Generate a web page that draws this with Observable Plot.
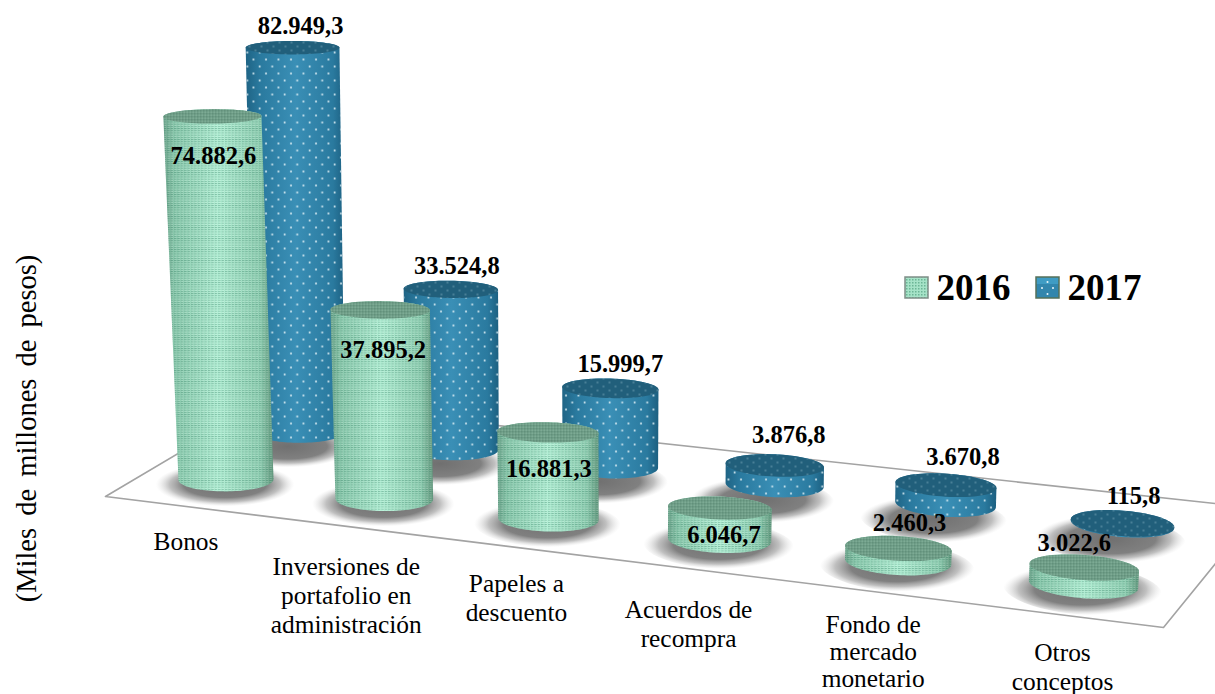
<!DOCTYPE html>
<html lang="es">
<head>
<meta charset="utf-8">
<script src="https://cdn.jsdelivr.net/npm/d3@7"></script>
<script src="https://cdn.jsdelivr.net/npm/@observablehq/plot@0.6"></script>
<style>
html,body{margin:0;padding:0;background:#fff;overflow:hidden}
</style>
</head>
<body>
<div id="chart"></div>
<script>
// ---- data ----
const categories = ["Bonos", "Inversiones de\nportafolio en\nadministración", "Papeles a\ndescuento", "Acuerdos de\nrecompra", "Fondo de\nmercado\nmonetario", "Otros\nconceptos"];
const values2016 = [74882.6, 37895.2, 16881.3, 6046.7, 2460.3, 3022.6];
const values2017 = [82949.3, 33524.8, 15999.7, 3876.8, 3670.8, 115.8];
const years = ["2016", "2017"];
const yLabel = "(Miles de millones de pesos)";

// ---- 3-D floor projection (unit floor square -> page) ----
const corners = [[225.5, 479], [1083, 584], [1122, 523.5], [299, 431]];
const slots = [0, 0.207, 0.41, 0.61, 0.807, 1];
const floorOutline = [[1215, 503], [267, 400], [105, 496], [1163, 627], [1215, 563]];
const [[x0, y0], [x1, y1], [x2, y2], [x3, y3]] = corners;
const dx1 = x1 - x2, dx2 = x3 - x2, sx = x0 - x1 + x2 - x3;
const dy1 = y1 - y2, dy2 = y3 - y2, sy = y0 - y1 + y2 - y3;
const det = dx1 * dy2 - dx2 * dy1;
const G = (sx * dy2 - dx2 * sy) / det, H = (dx1 * sy - sx * dy1) / det;
const A = x1 - x0 + G * x1, B = x3 - x0 + H * x3, D = y1 - y0 + G * y1, E = y3 - y0 + H * y3;
const project = (u, v) => {
  const w = 1 + G * u + H * v;
  return {x: (A * u + B * v + x0) / w, y: (D * u + E * v + y0) / w, w};
};
const fmt = d3.formatLocale({decimal: ",", thousands: ".", grouping: [3]}).format(",.1f");

function column(value, i, row) {
  const p = project(slots[i], row);
  const rx = 47.5 / p.w;
  const h = value * 0.00485 / p.w;
  const tilt = ((p.x - 300) / 800) * 4.5 * Math.PI / 180;
  const ratio = (t) => 0.25 - 0.1 * Math.sqrt(t / 380);
  const lean = row ? 0.6 : 1;
  return {
    i, row, value, tilt,
    bx: p.x, by: p.y, brx: rx, bry: rx * 0.25,
    tx: p.x - lean * (600 - p.x) * h / 10000, ty: p.y - h,
    trx: rx * (1 + h * 0.00009), try_: rx * ratio(h)
  };
}
const ell = (cx, cy, rx, ry, phi, t) => ({
  x: cx + rx * Math.cos(t) * Math.cos(phi) - ry * Math.sin(t) * Math.sin(phi),
  y: cy + rx * Math.cos(t) * Math.sin(phi) + ry * Math.sin(t) * Math.cos(phi)
});
const sweep = (a, b, n = 48) => d3.range(n + 1).map(k => a + (b - a) * k / n);
const bodyPath = c => [
  ...sweep(Math.PI, 0).map(t => ell(c.bx, c.by, c.brx, c.bry, c.tilt, t)),
  ...sweep(0, -Math.PI).map(t => ell(c.tx, c.ty, c.trx, c.try_, c.tilt, t))
].map(p => ({...p, id: c.i}));
const topPath = c => sweep(0, 2 * Math.PI, 72).map(t => ({...ell(c.tx, c.ty, c.trx, c.try_, c.tilt, t), id: c.i}));
const shadowPath = c => {
  const off = c.row ? [-12, 15] : [-1, 5];
  return sweep(0, 2 * Math.PI, 48).map(t => ({...ell(c.bx + off[0], c.by + off[1], c.brx * 1.46, c.brx * 0.46, c.tilt, t), id: c.i}));
};

const cols2016 = values2016.map((v, i) => column(v, i, 0));
const cols2017 = values2017.map((v, i) => column(v, i, 1));

// ---- label placement ----
const offset2016 = [[1, 47.5], [3, 48.5], [1, 44.5], [4, 34.5], [11, -17.5], [-10, -16.5]];
const offset2017 = [[8, -13.5], [6, -15.5], [10, -16.5], [14, -22.5], [17, -20.5], [11, -19.5]];
const labelRows = [
  ...cols2016.map((c, i) => ({x: c.tx + offset2016[i][0], y: c.ty + offset2016[i][1], text: fmt(c.value)})),
  ...cols2017.map((c, i) => ({x: c.tx + offset2017[i][0], y: c.ty + offset2017[i][1], text: fmt(c.value)}))
];
const catOffset = [[-40, 61], [-38, 96], [-32, 78], [-31, 83], [-25, 90], [-21, 82]];
const catRows = categories.map((t, i) => ({i, x: cols2016[i].bx + catOffset[i][0], y: cols2016[i].by + catOffset[i][1], text: t}));

const legendRows = [
  {year: years[0], x1: 905, x2: 928, y1: 277, y2: 298, tx: 936, ty: 288},
  {year: years[1], x1: 1036, x2: 1059, y1: 277, y2: 298, tx: 1067, ty: 288}
];

const defs = () => {
  const g = document.createElementNS("http://www.w3.org/2000/svg", "defs");
  g.innerHTML = `
  <linearGradient id="b16" x1="0" x2="1" y1="0" y2="0">
    <stop offset="0" stop-color="#6fa58d"/><stop offset=".1" stop-color="#8ccaae"/>
    <stop offset=".5" stop-color="#b4f0d6"/><stop offset=".88" stop-color="#92d0b4"/><stop offset="1" stop-color="#66997f"/>
  </linearGradient>
  <linearGradient id="b17" x1="0" x2="1" y1="0" y2="0">
    <stop offset="0" stop-color="#1f6485"/><stop offset=".15" stop-color="#2a7a9f"/>
    <stop offset=".5" stop-color="#3a8fb6"/><stop offset=".88" stop-color="#2a7a9f"/><stop offset="1" stop-color="#1c5f80"/>
  </linearGradient>
  <radialGradient id="sh">
    <stop offset="0" stop-color="#707070"/><stop offset=".6" stop-color="#808080"/>
    <stop offset=".8" stop-color="#b0b0b0" stop-opacity=".8"/><stop offset="1" stop-color="#dddddd" stop-opacity="0"/>
  </radialGradient>
  <pattern id="p16" width="3.4" height="2.2" patternUnits="userSpaceOnUse">
    <rect width="2.4" height=".9" fill="#2f7a60" fill-opacity=".38"/>
    <rect x="1.2" y="1.2" width="1.2" height=".9" fill="#fff" fill-opacity=".28"/>
  </pattern>
  <pattern id="t16" width="3" height="3" patternUnits="userSpaceOnUse">
    <rect width="3" height="3" fill="#6d9d87"/>
    <rect width="1.5" height="1.5" fill="#8cb8a2"/>
    <rect x="1.5" y="1.5" width="1.5" height="1.5" fill="#56846f"/>
  </pattern>
  <pattern id="p17" width="12.5" height="14" patternUnits="userSpaceOnUse">
    <circle cx="3" cy="3" r="1" fill="#dfeff5"/><circle cx="9.25" cy="10" r="1" fill="#dfeff5"/>
  </pattern>
  <pattern id="t17" width="12" height="8" patternUnits="userSpaceOnUse">
    <rect width="12" height="8" fill="#215f7b"/>
    <circle cx="3" cy="2" r=".7" fill="#8db7c6"/><circle cx="9" cy="6" r=".7" fill="#8db7c6"/>
  </pattern>
  <pattern id="l16" width="3" height="3" patternUnits="userSpaceOnUse">
    <rect width="3" height="3" fill="#a6e3c8"/><rect width="1.5" height="1.5" fill="#6cb596"/>
  </pattern>
  <pattern id="l17" width="23" height="21" patternUnits="userSpaceOnUse" x="1036" y="277">
    <rect width="23" height="21" fill="#3286ad"/>
    <rect width="23" height="7" fill="#3f9cc4"/>
    <circle cx="6" cy="11" r="1" fill="#eaf6fa"/><circle cx="17" cy="11" r="1" fill="#eaf6fa"/>
    <circle cx="11.5" cy="5" r="1" fill="#eaf6fa"/><circle cx="11.5" cy="17" r="1" fill="#eaf6fa"/>
  </pattern>`;
  return g;
};

const lineOf = (rows, fill, opts = {}) => Plot.line(rows, {x: "x", y: "y", z: "id", fill, stroke: "none", curve: "linear", ...opts});
const cylinderMarks = (cols, grad, dots, top) => [
  lineOf(cols.flatMap(bodyPath), grad),
  lineOf(cols.flatMap(bodyPath), dots),
  lineOf(cols.flatMap(topPath), top)
];
const catText = (rows, lineHeight) => Plot.text(rows, {x: "x", y: "y", text: "text", fontSize: 25.4, textAnchor: "middle", lineAnchor: "middle", lineHeight, fill: "#000"});

const chart = Plot.plot({
  width: 1215,
  height: 694,
  margin: 0,
  x: {domain: [0, 1215], range: [0, 1215], axis: null},
  y: {domain: [0, 694], range: [0, 694], axis: null},
  style: {fontFamily: "'Liberation Serif', serif", background: "#fff", color: "#000", overflow: "hidden"},
  marks: [
    defs,
    Plot.line(floorOutline, {x: d => d[0], y: d => d[1], stroke: "#a3a3a3", strokeWidth: 1.6, curve: "linear"}),
    lineOf([...cols2017, ...cols2016].flatMap((c, k) => shadowPath(c).map(p => ({...p, id: k}))), "url(#sh)"),
    ...cylinderMarks(cols2017, "url(#b17)", "url(#p17)", "url(#t17)"),
    ...cylinderMarks(cols2016, "url(#b16)", "url(#p16)", "url(#t16)"),
    Plot.text(labelRows, {x: "x", y: "y", text: "text", fontSize: 24.5, fontWeight: "bold", textAnchor: "middle", lineAnchor: "bottom", fill: "#000"}),
    catText(catRows.filter(d => d.i !== 4), 1.142),
    catText(catRows.filter(d => d.i === 4), 1.063),
    Plot.text([yLabel], {x: () => 26, y: () => 428, text: d => d, rotate: -90, fontSize: 28.5, textAnchor: "middle", fill: "#000"}),
    Plot.rect(legendRows, {x1: "x1", x2: "x2", y1: "y1", y2: "y2", fill: d => d.year === "2016" ? "url(#l16)" : "url(#l17)", stroke: d => d.year === "2016" ? "#7f8f88" : "#55705a", strokeWidth: 1.5}),
    Plot.text(legendRows, {x: "tx", y: "ty", text: "year", fontSize: 37, fontWeight: "bold", textAnchor: "start", lineAnchor: "middle", fill: "#000"})
  ]
});
d3.select(chart).selectAll("text").filter(function () { return this.textContent === yLabel; }).style("word-spacing", "5px");
document.getElementById("chart").append(chart);
</script>
</body>
</html>
